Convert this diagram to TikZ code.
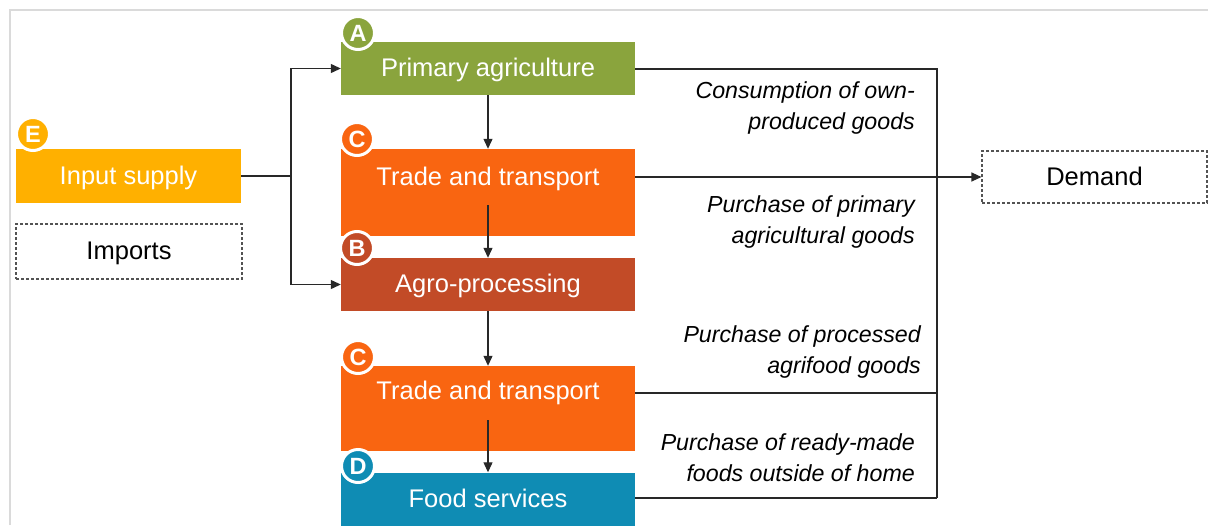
\documentclass[tikz,border=0pt]{standalone}
\usepackage{fontspec}
\setmainfont{Liberation Sans}
\usetikzlibrary{arrows.meta,positioning}
\definecolor{cgreen}{RGB}{138,164,61}
\definecolor{corange}{RGB}{249,101,17}
\definecolor{cbrown}{RGB}{194,75,39}
\definecolor{cblue}{RGB}{15,140,180}
\definecolor{camber}{RGB}{255,176,0}
\definecolor{cframe}{RGB}{218,218,218}
\definecolor{cline}{RGB}{40,40,40}
\tikzset{
  boxfont/.style={font=\fontsize{25.5}{30}\selectfont, text height=21pt, text depth=5pt},
  stagebox/.style={rectangle, inner sep=0pt, minimum width=294pt, text=white, boxfont},
  badge/.style={circle, draw=white, line width=3pt, minimum size=33pt, inner sep=0pt, text=white, font=\fontsize{23.5}{24}\selectfont\bfseries},
  dashbox/.style={rectangle, draw=cline!80, dash pattern=on 3pt off 2pt, line width=1.1pt, inner sep=0pt, boxfont},
  flow/.style={draw=cline, line width=1.2pt},
  arr/.style={flow, -{Triangle[length=10pt,width=9pt]}},
  note/.style={inner sep=0pt, align=right, font=\fontsize{23.2}{31}\selectfont\itshape, anchor=east}
}
\begin{document}
\begin{tikzpicture}[x=1pt,y=-1pt]
\useasboundingbox (0,0) rectangle (1208,525);
% frame
\draw[cframe, line width=2pt] (10,525) -- (10,10) -- (1208,10);

% stage boxes
\node[stagebox, fill=cgreen, minimum height=53pt] (prim) at (488,68.5) {Primary agriculture};
\node[stagebox, fill=corange, minimum height=87pt,
      label={[text=white, boxfont, yshift=15.5pt]center:Trade and transport}] (tr1) at (488,192.5) {};
\node[stagebox, fill=cbrown, minimum height=53pt] (agro) at (488,284.5) {Agro-processing};
\node[stagebox, fill=corange, minimum height=85pt,
      label={[text=white, boxfont, yshift=17pt]center:Trade and transport}] (tr2) at (488,408.5) {};
\node[stagebox, fill=cblue, minimum height=53pt] (food) at (488,499) {Food services};
\node[stagebox, fill=camber, minimum width=225pt, minimum height=54pt] (inp) at (128.5,176) {Input supply};

\node[dashbox, minimum width=226pt, minimum height=55pt] (imp) at (129,251.5) {Imports};
\node[dashbox, minimum width=225pt, minimum height=52pt] (dem) at (1094.5,177) {Demand};

% badges
\node[badge, fill=cgreen] (ba) at (358,33) {A};
\node[badge, fill=corange] (bc1) at (357,139) {C};
\node[badge, fill=cbrown] (bb) at (357,248) {B};
\node[badge, fill=corange] (bc2) at (358,357) {C};
\node[badge, fill=cblue] (bd) at (358,466) {D};
\node[badge, fill=camber] (be) at (33,134) {E};

% input connectors
\coordinate (j) at (291,176);
\draw[flow] (inp.east) -- (j);
\draw[arr] (j) |- (prim.west);
\draw[arr] (j) |- (agro.west);

% vertical flow arrows
\draw[arr] (prim.south) -- (tr1.north);
\draw[arr] ([yshift=31pt]tr1.south) -- (agro.north);
\draw[arr] (agro.south) -- (tr2.north);
\draw[arr] ([yshift=31pt]tr2.south) -- (food.north);

% demand collector
\coordinate (rtop) at (937,69);
\coordinate (r2) at (937,393);
\coordinate (rbot) at (937,498);
\draw[flow] (prim.east |- rtop) -- (rtop) -- (rbot);
\draw[flow] (r2 -| tr2.east) -- (r2);
\draw[flow] (rbot -| food.east) -- (rbot);
\draw[arr] (dem.west -| tr1.east) -- (dem.west);

% notes
\node[note] (n1) at (915,107.5) {Consumption of own-\\produced goods};
\node[note] (n2) at (915,222) {Purchase of primary\\agricultural goods};
\node[note] (n3) at (921,352) {Purchase of processed\\agrifood goods};
\node[note] (n4) at (915,457.5) {Purchase of ready-made\\foods outside of home};
\end{tikzpicture}
\end{document}
